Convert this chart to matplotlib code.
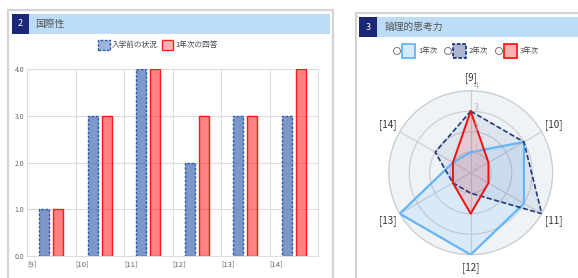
import matplotlib.pyplot as plt
import numpy as np
from matplotlib.patches import Rectangle, Ellipse

plt.rcParams['font.family'] = ['Noto Sans CJK JP', 'DejaVu Sans']

# bar chart data (国際性)
bar_cats = ['[9]', '[10]', '[11]', '[12]', '[13]', '[14]']
bar_names = ['入学前の状況', '1年次の回答']
before_vals = [1, 3, 4, 2, 3, 3]
year1_vals = [1, 3, 4, 3, 3, 4]

# radar data (論理的思考力)
radar_cats = ['[9]', '[10]', '[11]', '[12]', '[13]', '[14]']
radar_names = ['1年次', '2年次', '3年次']
r_year1 = [1, 3, 3, 4, 4, 1]
r_year2 = [3, 3, 4, 1, 1, 2]
r_year3 = [3, 1, 1, 2, 1, 1]

W, H = 578, 278
fig = plt.figure(figsize=(W / 100, H / 100), dpi=100)


def box(x, y, w, h):
    # pixel box (top-left origin) -> figure fraction
    return [x / W, 1 - (y + h) / H, w / W, h / H]


def rect(x, y, w, h, z=1, **kw):
    fig.add_artist(Rectangle((x / W, 1 - (y + h) / H), w / W, h / H,
                             transform=fig.transFigure, zorder=z, **kw))


def ftext(x, y, s, **kw):
    fig.text(x / W, 1 - y / H, s, **kw)


# panel frames (behind everything)
rect(8, 10, 325, 300, z=-5, facecolor='white', edgecolor='#d4d4d4', lw=1.6)
rect(356, 13, 240, 300, z=-5, facecolor='white', edgecolor='#d4d4d4', lw=1.6)

# headers
rect(12, 14, 17, 20, facecolor='#1c2677', edgecolor='none')
rect(29, 14, 301, 20, facecolor='#bcdcf7', edgecolor='none')
ftext(20.5, 24, '2', color='white', fontsize=6.5, ha='center', va='center')
ftext(35, 24, '国際性', color='#555555', fontsize=7, ha='left', va='center')

rect(359, 17, 18, 20, facecolor='#1c2677', edgecolor='none')
rect(377, 17, 210, 20, facecolor='#bcdcf7', edgecolor='none')
ftext(368, 27, '3', color='white', fontsize=6.5, ha='center', va='center')
ftext(385, 27, '論理的思考力', color='#555555', fontsize=7, ha='left', va='center')

# left legend
rect(98, 40, 12, 10, facecolor='#9fb3da', edgecolor='#2a5cae', lw=1.0, ls=(0, (2, 1)))
ftext(112, 45, bar_names[0], fontsize=5.5, color='#444444', ha='left', va='center')
rect(162, 40, 11, 10, facecolor='#ffb3b3', edgecolor='#ff2020', lw=1.0)
ftext(175, 45, bar_names[1], fontsize=5.5, color='#444444', ha='left', va='center')

# bar chart
ax = fig.add_axes(box(27, 69, 291, 187))
x = np.arange(len(bar_cats))
bw = 0.21
ax.bar(x + 0.5 - 0.145, before_vals, width=bw, color=(0.28, 0.42, 0.7, 0.7),
       edgecolor='#2a5cae', lw=1.0, linestyle=(0, (2, 1)), zorder=3)
ax.bar(x + 0.5 + 0.145, year1_vals, width=bw, color=(1, 0.1, 0.1, 0.55),
       edgecolor='#ff1a1a', lw=1.0, zorder=3)
ax.set_xlim(0, 6)
ax.set_ylim(0, 4)
ax.set_xticks(np.arange(7))
ax.set_xticklabels(bar_cats + [''], ha='left')
ax.set_yticks([0, 1, 2, 3, 4])
ax.set_yticklabels(['0.0', '1.0', '2.0', '3.0', '4.0'])
ax.tick_params(length=0, labelsize=5, labelcolor='#666666', pad=2)
ax.tick_params(axis='x', labelsize=5.5, pad=3)
ax.grid(True, color='#dddddd', lw=0.8, zorder=0)
for s in ax.spines.values():
    s.set_color('#dddddd')
    s.set_linewidth(0.8)

# right legend
lx = [397, 448, 499]
lcol = [('#d6ebfb', '#64b5f6', '-'), ('#aab6d0', '#1f3a7a', (0, (2, 1))), ('#ffb0b0', '#ff1a1a', '-')]
for i, name in enumerate(radar_names):
    fig.add_artist(Ellipse((lx[i] / W, 1 - 51 / H), 7 / W, 7 / H, transform=fig.transFigure,
                           facecolor='white', edgecolor='#777777', lw=0.7))
    fc, ec, ls = lcol[i]
    rect(lx[i] + 5, 44, 13, 14, facecolor=fc, edgecolor=ec, lw=1.3, ls=ls)
    ftext(lx[i] + 21, 51, name, fontsize=5.4, color='#444444', ha='left', va='center')

# radar chart
cx, cy, R = 470.7, 172.7, 82
pax = fig.add_axes(box(cx - R, cy - R, 2 * R, 2 * R), projection='polar')
pax.set_theta_offset(np.pi / 2)
pax.set_theta_direction(-1)
n = len(radar_cats)
ang = np.arange(n) * 2 * np.pi / n
ang_c = np.append(ang, ang[0])
pax.set_facecolor('#eef3f8')
pax.set_xticks(ang)
pax.set_xticklabels([])
pax.set_yticks([1, 2, 3, 4])
pax.set_yticklabels([])
pax.grid(True, color='#cccccc', lw=0.8)
pax.spines['polar'].set_color('#cccccc')
pax.spines['polar'].set_linewidth(0.8)

series = [
    (r_year1, '#64b5f6', (0.39, 0.7, 0.96, 0.15), '-', 1.6),
    (r_year2, '#1f3a7a', (0.12, 0.23, 0.48, 0.08), (0, (3, 1.5)), 1.2),
    (r_year3, '#ee1111', (1, 0.2, 0.2, 0.15), '-', 1.4),
]
for vals, lc, fc, ls, lw in series:
    v = np.append(vals, vals[0])
    pax.fill(ang_c, v, color=fc, zorder=2)
    pax.plot(ang_c, v, color=lc, ls=ls, lw=lw, zorder=3)

pax.set_xlim(0, 2 * np.pi)
pax.set_ylim(0, 4)

for a, lab in zip(ang, radar_cats):
    pax.text(a, 4.65, lab, fontsize=7, color='#333333', ha='center', va='center', clip_on=False)
for v in range(5):
    pax.annotate(str(v), xy=(0, v), xytext=(2, 3), textcoords='offset points',
                 fontsize=6.5, color='#bbbbbb', ha='left', va='center')

fig.savefig('out.png', dpi=100)
